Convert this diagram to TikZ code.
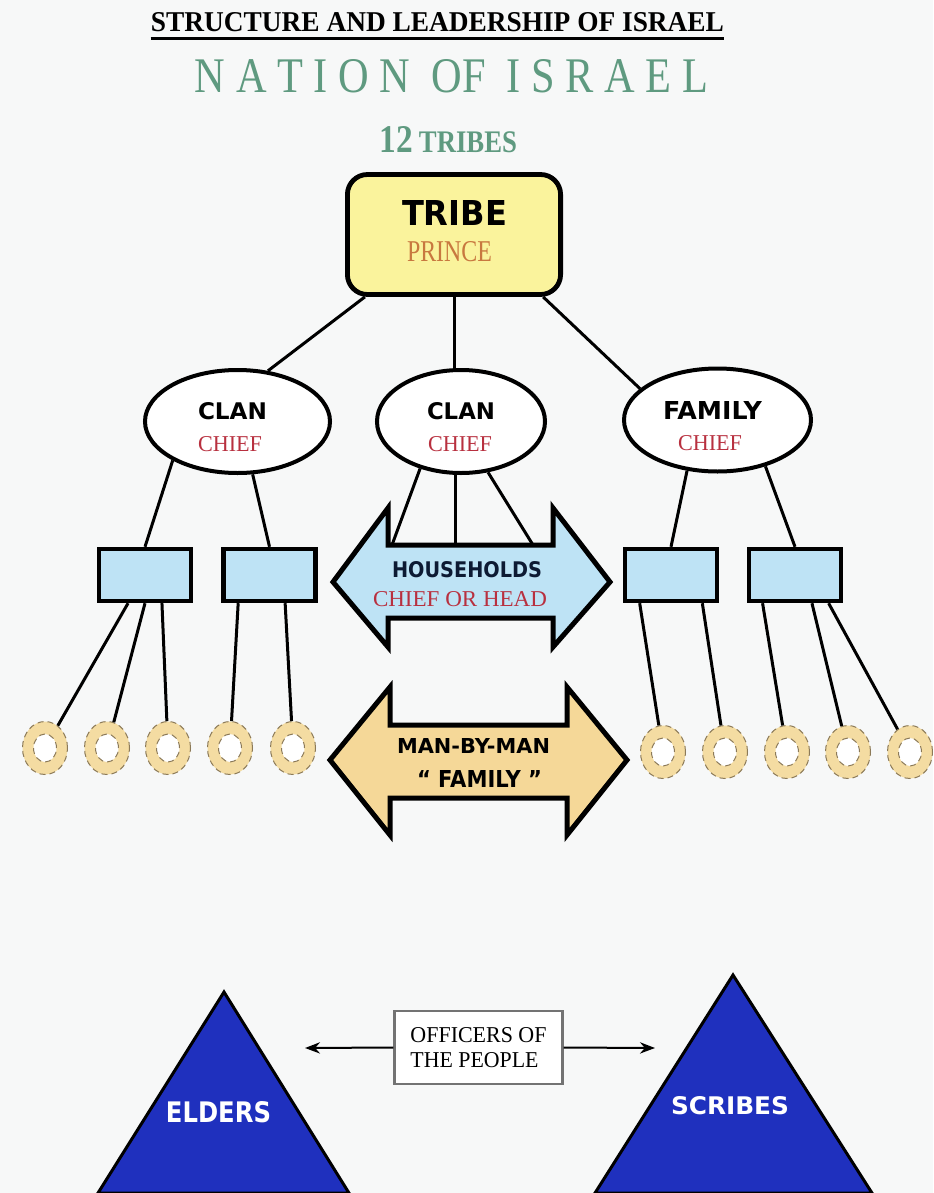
\documentclass[tikz,border=0pt]{standalone}
\usepackage{fontspec}
\usepackage{graphicx}
\setmainfont{Liberation Serif}
\newfontfamily\heavyfont{DejaVu Sans}
\usetikzlibrary{calc,shapes.geometric,arrows.meta}
\definecolor{bgcol}{HTML}{F7F8F8}
\definecolor{nation}{HTML}{5F9A80}
\definecolor{tribey}{HTML}{FAF39C}
\definecolor{houseb}{HTML}{BEE3F5}
\definecolor{ringt}{HTML}{F4DCA2}
\definecolor{ringe}{HTML}{8C7A58}
\definecolor{mant}{HTML}{F5D898}
\definecolor{chiefr}{HTML}{B8303F}
\definecolor{princer}{HTML}{C8783F}
\definecolor{navy}{HTML}{0D1A33}
\definecolor{trib}{HTML}{1F30BE}
\newcommand{\fitto}[3]{\resizebox{#1pt}{#2pt}{#3}}
\tikzset{tx/.style = {inner sep=0pt},
           hv/.style = {inner sep=0pt, font=\heavyfont\bfseries},
           ch/.style = {inner sep=0pt, text=chiefr},
           tb/.style = {rectangle, rounded corners=10pt, line width=2.4pt, draw, fill=tribey,
                        minimum width=106.6pt, minimum height=60pt, inner sep=0pt},
           el/.style = {ellipse, line width=2pt, draw, fill=white, minimum height=51.5pt, inner sep=0pt},
           hb/.style = {rectangle, line width=2.2pt, draw, fill=houseb,
                        minimum width=46pt, minimum height=26pt, inner sep=0pt},
           rg/.style = {ellipse, draw=ringe, densely dashed, line width=0.5pt, fill=ringt,
                        minimum width=22.5pt, minimum height=26.5pt, inner sep=0pt,
                        path picture={\draw[ringe, densely dashed, line width=0.5pt, fill=white]
                          (path picture bounding box.center) ellipse (5.75pt and 7pt);}},
           ln/.style = {line width=1.5pt},
           ar/.style = {line width=2.5pt, line join=miter, draw},
           tri/.style = {line width=1.5pt, draw=black, fill=trib, line join=miter},
           of/.style = {rectangle, draw=black!55, line width=1.2pt, fill=white,
                        minimum width=84pt, minimum height=36.5pt, inner sep=0pt, align=left,
                        font=\fontsize{10}{12.5}\selectfont}}

\begin{document}
\begin{tikzpicture}[x=0.5pt, y=-0.5pt, >=Stealth]
    \useasboundingbox (0,0) rectangle (933,1193);
    \fill[bgcol] (0,0) rectangle (933,1193);
    % headings
    \node[tx] (ttl) at (437.5,22.5) {\bfseries\fitto{286.5}{9.5}{STRUCTURE AND LEADERSHIP OF ISRAEL}};
    \draw[line width=1.3pt] ($(ttl.south west)+(0,6)$) -- ($(ttl.south east)+(0,6)$);
    \node[tx, text=nation] (nat) at (451.5,76.5) {\fitto{256.5}{16.5}{N A T I O N\ \ OF\ \ I S R A E L}};
    \node[tx, text=nation, anchor=south] (twl) at (448.5,153) {\bfseries\fitto{68.5}{13}{12\,{\footnotesize TRIBES}}};
    % tribe, clans, family
    \node[tb] (tribe) at (454,234.5) {};
    \node[hv] (tribet) at (454.5,212.5) {\fitto{52.5}{12.5}{TRIBE}};
    \node[tx, text=princer] (prince) at (449.5,252) {\fitto{42.5}{10}{PRINCE}};
    \node[el, minimum width=92.5pt] (e1) at (237.5,421.5) {};
    \node[el, minimum width=84pt]   (e2) at (461,421.5) {};
    \node[el, minimum width=93.5pt] (e3) at (717.5,420) {};
    \node[hv] (e1t) at (232.5,411.5) {\fitto{34.5}{8.5}{CLAN}};
    \node[ch] (e1c) at (230,444.5) {\fitto{32}{7.5}{CHIEF}};
    \node[hv] (e2t) at (461,411.5) {\fitto{34}{8.5}{CLAN}};
    \node[ch] (e2c) at (460,444.5) {\fitto{32}{7.5}{CHIEF}};
    \node[hv] (e3t) at (712.5,410.5) {\fitto{49.5}{9}{FAMILY}};
    \node[ch] (e3c) at (710,443.5) {\fitto{32}{7.5}{CHIEF}};
    \draw[ln] (tribe.215) -- (e1.59);
    \draw[ln] (tribe.south) -- (tribe.south |- e2.north);
    \draw[ln] (tribe.325) -- (e3.158);
    % households
    \node[hb] (r1) at (145,575) {};
    \node[hb] (r2) at (269.5,575) {};
    \node[hb] (r3) at (671,575) {};
    \node[hb] (r4) at (795,575) {};
    \draw[ln] (e1.211) -- (r1.north);
    \draw[ln] (e1.286) -- (r2.north);
    \draw[ln] (e3.239) -- (r3.north);
    \draw[ln] (e3.316) -- (r4.north);
    \coordinate (hh1) at (392,545); \coordinate (hh2) at (455,545); \coordinate (hh3) at (533,545);
    \draw[ln] (e2.229) -- (hh1);
    \draw[ln] (hh2 |- e2.south) -- (hh2);
    \draw[ln] (e2.298) -- (hh3);
    \draw[ar, fill=houseb] (333,582) -- (388,508) -- (388,545) -- (553,545) -- (553,508) -- (610,582)
        -- (553,647) -- (553,618) -- (388,618) -- (388,647) -- cycle;
    \node[hv, text=navy] (hht) at (467,570) {\fitto{75}{8}{HOUSEHOLDS}};
    \node[ch] (hhc) at (460,599.5) {\fitto{87}{7.5}{CHIEF OR HEAD}};
    % man by man
    \node[rg] (c1) at (45,748) {};  \node[rg] (c2) at (107,748) {}; \node[rg] (c3) at (168,748) {};
    \node[rg] (c4) at (230,748) {}; \node[rg] (c5) at (293,748) {};
    \node[rg] (c6) at (663,752) {}; \node[rg] (c7) at (725,752) {}; \node[rg] (c8) at (787,752) {};
    \node[rg] (c9) at (848,752) {}; \node[rg] (c10) at (910,752) {};
    \draw[ln] (r1.239) -- (c1);
    \draw[ln] (r1.south) -- (c2);
    \draw[ln] (r1.301) -- (c3);
    \draw[ln] (r2.222) -- (c4);
    \draw[ln] (r2.299) -- (c5);
    \draw[ln] (r3.222) -- (c6);
    \draw[ln] (r3.318) -- (c7);
    \draw[ln] (r4.221) -- (c8);
    \draw[ln] (r4.301) -- (c9);
    \draw[ln] (r4.320) -- (c10);
    \draw[ar, fill=mant] (330,760) -- (390,687) -- (390,725) -- (567,725) -- (567,687) -- (627,760)
        -- (567,835) -- (567,798) -- (390,798) -- (390,835) -- cycle;
    \node[hv] (mbm) at (473.5,745.5) {\fitto{76.5}{7.5}{MAN-BY-MAN}};
    \node[hv] (fam) at (479.5,778.5) {\fitto{62.5}{8.5}{“ FAMILY ”}};
    % officers
    \draw[tri] (224,992) -- (349,1193) -- (98,1193) -- cycle;
    \draw[tri] (733,975) -- (872,1193) -- (595,1193) -- cycle;
    \node[hv, text=white] (eld) at (218.5,1112.5) {\fitto{52.5}{10.5}{ELDERS}};
    \node[hv, text=white] (scr) at (730,1106) {\fitto{59}{9}{SCRIBES}};
    \node[of] (off) at (478.5,1047.5) {\fitto{68}{7.5}{OFFICERS OF}\\\fitto{64}{7.5}{THE PEOPLE}};
    \coordinate (eltip) at (305,1048); \coordinate (sctip) at (655,1048);
    \draw[->, line width=1pt] (off.west) -- (eltip);
    \draw[->, line width=1pt] (off.east) -- (sctip);
  \end{tikzpicture}
\end{document}
